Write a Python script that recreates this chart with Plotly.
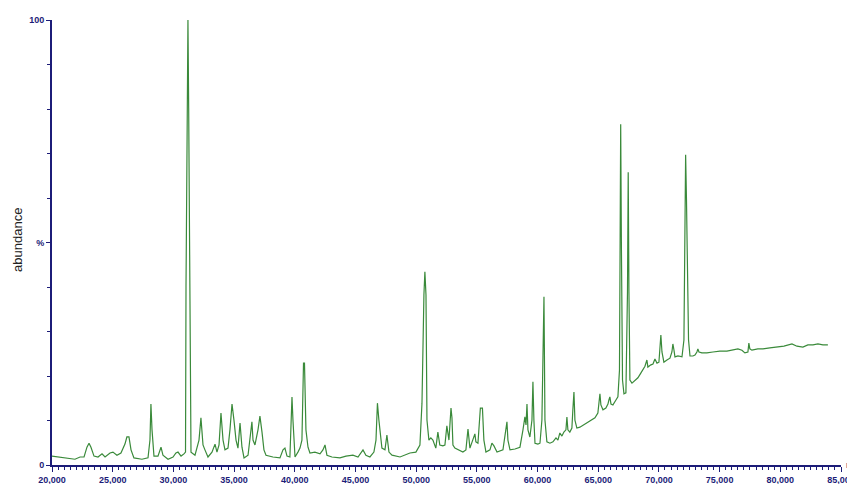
import plotly.graph_objects as go

# Retention time (min) and relative abundance (%)
time_min = [
    20.00, 20.49, 21.07, 21.89, 22.31, 22.64, 22.88, 23.05, 23.21, 23.46, 23.79, 24.12, 24.37, 24.78,
    25.02, 25.35, 25.68, 26.01, 26.17, 26.34, 26.51, 26.75, 27.41, 27.91, 28.07, 28.15, 28.24, 28.40,
    28.73, 28.90, 28.98, 29.14, 29.56, 29.97, 30.21, 30.38, 30.63, 30.87, 31.00, 31.04, 31.15, 31.20,
    31.26, 31.37, 31.45, 31.78, 32.11, 32.27, 32.44, 32.60, 32.85, 33.18, 33.43, 33.59, 33.76, 33.92,
    34.09, 34.25, 34.50, 34.66, 34.83, 34.99, 35.16, 35.32, 35.49, 35.65, 35.82, 36.15, 36.39, 36.47,
    36.56, 36.72, 36.97, 37.13, 37.30, 37.46, 37.63, 38.20, 38.78, 39.03, 39.19, 39.36, 39.60, 39.73,
    39.77, 39.85, 40.02, 40.26, 40.43, 40.59, 40.72, 40.80, 40.92, 41.09, 41.25, 41.66, 42.08, 42.32,
    42.49, 42.65, 43.06, 43.72, 44.22, 44.79, 45.21, 45.62, 45.86, 46.19, 46.52, 46.69, 46.81, 46.93,
    47.02, 47.18, 47.43, 47.59, 47.76, 48.01, 48.67, 49.49, 49.98, 50.31, 50.48, 50.56, 50.64, 50.72,
    50.81, 50.89, 51.05, 51.21, 51.38, 51.62, 51.79, 51.95, 52.20, 52.37, 52.53, 52.70, 52.87, 52.95,
    53.03, 53.19, 53.52, 53.85, 54.10, 54.27, 54.43, 54.68, 54.84, 54.92, 55.09, 55.29, 55.46, 55.58,
    55.75, 56.08, 56.24, 56.41, 56.66, 57.15, 57.40, 57.48, 57.56, 57.73, 58.14, 58.55, 58.80, 58.88,
    58.96, 59.05, 59.13, 59.21, 59.37, 59.54, 59.62, 59.70, 59.79, 60.03, 60.20, 60.36, 60.44, 60.53,
    60.61, 60.77, 61.02, 61.27, 61.52, 61.68, 61.84, 62.01, 62.17, 62.34, 62.42, 62.50, 62.66, 62.83,
    62.91, 63.00, 63.08, 63.24, 63.49, 63.90, 64.32, 64.73, 64.97, 65.06, 65.14, 65.22, 65.39, 65.63,
    65.80, 65.88, 65.96, 66.05, 66.21, 66.46, 66.62, 66.75, 66.79, 66.85, 66.91, 67.00, 67.12, 67.28,
    67.41, 67.47, 67.53, 67.61, 67.78, 68.02, 68.27, 68.52, 68.68, 68.85, 69.01, 69.09, 69.34, 69.51,
    69.67, 69.84, 70.00, 70.08, 70.16, 70.25, 70.41, 70.66, 70.91, 71.07, 71.15, 71.24, 71.32, 71.57,
    71.90, 72.06, 72.15, 72.20, 72.27, 72.35, 72.44, 72.56, 72.80, 72.97, 73.13, 73.21, 73.30, 73.54,
    73.95, 74.45, 75.02, 75.60, 76.09, 76.51, 76.84, 77.08, 77.33, 77.41, 77.49, 77.66, 78.15, 78.57,
    79.14, 79.72, 80.30, 80.96, 81.37, 81.86, 82.27, 82.69, 83.10, 83.51, 83.92,
]
abundance = [
    2.0, 1.8, 1.6, 1.3, 1.8, 1.8, 4.0, 4.9, 4.0, 2.0, 1.8, 2.5, 1.8, 2.7,
    2.9, 2.2, 2.7, 4.7, 6.3, 6.3, 3.4, 1.6, 1.3, 1.6, 5.6, 13.7, 7.9, 2.0,
    2.0, 3.8, 4.0, 2.2, 1.3, 1.8, 2.7, 2.9, 2.0, 2.5, 2.9, 40.0, 80.2, 100.0,
    80.2, 40.0, 2.9, 2.2, 5.6, 10.6, 4.5, 3.4, 1.8, 2.9, 4.7, 2.9, 4.5, 11.7,
    5.6, 3.4, 3.8, 7.9, 13.7, 10.1, 5.6, 3.8, 9.4, 4.0, 1.6, 2.2, 7.9, 9.7,
    5.6, 4.5, 7.9, 11.0, 7.4, 3.4, 2.2, 1.8, 1.6, 3.4, 3.8, 2.0, 1.8, 10.1,
    15.3, 10.1, 1.8, 2.9, 3.8, 5.6, 22.9, 22.9, 7.9, 4.0, 2.7, 2.9, 2.5, 3.4,
    4.5, 2.2, 1.8, 1.6, 2.0, 2.2, 1.8, 3.4, 2.2, 1.8, 2.9, 5.6, 13.9, 10.1,
    7.9, 3.8, 3.4, 6.7, 2.9, 2.2, 1.8, 2.7, 2.9, 4.5, 13.9, 28.1, 38.2, 43.4,
    38.2, 10.1, 5.6, 6.1, 5.6, 3.8, 7.4, 4.5, 4.3, 4.5, 8.8, 5.6, 12.8, 10.6,
    4.5, 3.8, 3.4, 2.9, 3.4, 8.1, 3.8, 5.6, 7.0, 5.2, 4.9, 12.8, 12.8, 5.6,
    2.9, 3.4, 4.9, 4.3, 2.9, 3.4, 7.9, 9.7, 5.6, 3.4, 3.6, 4.0, 7.9, 10.1,
    10.8, 9.0, 13.7, 7.9, 6.3, 10.1, 18.7, 10.1, 4.9, 4.7, 4.9, 10.1, 28.1, 37.8,
    10.1, 5.2, 4.9, 5.2, 6.1, 5.6, 7.2, 6.5, 7.4, 7.9, 10.8, 7.9, 7.4, 8.3,
    12.4, 16.4, 10.1, 8.3, 8.5, 9.2, 9.9, 10.6, 11.7, 14.6, 16.0, 13.5, 12.4, 12.8,
    13.7, 14.6, 15.3, 13.7, 13.5, 14.6, 15.3, 21.3, 48.8, 76.6, 48.8, 19.1, 16.0, 16.2,
    38.9, 65.8, 38.9, 19.1, 18.4, 19.1, 19.6, 20.7, 21.3, 22.2, 23.6, 22.0, 22.5, 22.7,
    23.8, 22.9, 23.1, 25.8, 29.2, 25.4, 23.1, 23.6, 24.0, 25.4, 27.2, 25.8, 24.3, 24.5,
    24.3, 28.1, 59.6, 69.7, 59.6, 39.3, 28.1, 24.5, 24.5, 24.7, 25.4, 26.1, 25.4, 25.2,
    25.2, 25.4, 25.6, 25.6, 25.8, 26.1, 25.8, 25.2, 25.4, 27.4, 26.1, 25.8, 26.1, 26.1,
    26.3, 26.5, 26.7, 27.2, 26.7, 26.5, 27.0, 27.0, 27.2, 27.0, 27.0,
]

x_tick_vals = [20, 25, 30, 35, 40, 45, 50, 55, 60, 65, 70, 75, 80, 85]
x_tick_text = ["20,000", "25,000", "30,000", "35,000", "40,000", "45,000", "50,000",
               "55,000", "60,000", "65,000", "70,000", "75,000", "80,000", "85,000"]
y_tick_vals = [0, 50, 100]
y_tick_text = ["0", "%", "100"]

NAVY = "#1c1c78"
GREEN = "#3a8a3a"
tickfont = dict(family="Liberation Sans", size=9, color=NAVY, weight="bold")

fig = go.Figure()
fig.add_trace(go.Scatter(x=time_min, y=abundance, mode="lines",
                         line=dict(color=GREEN, width=1.2), hoverinfo="skip",
                         cliponaxis=False))

# the page body adds an 8px offset, so the figure is sized to fit inside it
fig.update_layout(
    width=847, height=476,
    margin=dict(l=44, r=14, t=12, b=19, autoexpand=False),
    paper_bgcolor="white", plot_bgcolor="white",
    showlegend=False,
    xaxis=dict(range=[20, 85], showgrid=False, zeroline=False, automargin=False,
               showline=True, linecolor=NAVY, linewidth=2,
               tickmode="array", tickvals=x_tick_vals, ticktext=x_tick_text,
               ticks="outside", ticklen=5, tickwidth=1, tickcolor=NAVY,
               tickfont=tickfont,
               minor=dict(dtick=0.5, tick0=20, ticks="outside", ticklen=3,
                          tickcolor=NAVY, showgrid=False)),
    yaxis=dict(range=[0, 100], showgrid=False, zeroline=False, automargin=False,
               showline=True, linecolor=NAVY, linewidth=2,
               tickmode="array", tickvals=y_tick_vals, ticktext=y_tick_text,
               ticks="outside", ticklen=4, tickwidth=1, tickcolor=NAVY,
               tickfont=tickfont,
               minor=dict(dtick=10, tick0=0, ticks="outside", ticklen=3,
                          tickcolor=NAVY, showgrid=False)),
    annotations=[
        dict(text="abundance", xref="paper", yref="paper", x=-0.043, y=0.506,
             textangle=-90, showarrow=False, xanchor="center", yanchor="middle",
             font=dict(family="Liberation Sans", size=13, color="#222222")),
        dict(text="m", xref="paper", yref="paper", x=1.004, y=0.0,
             showarrow=False, xanchor="left", yanchor="middle",
             font=dict(family="Liberation Sans", size=9, color=NAVY, weight="bold")),
    ],
)

fig.write_html("out.html")
